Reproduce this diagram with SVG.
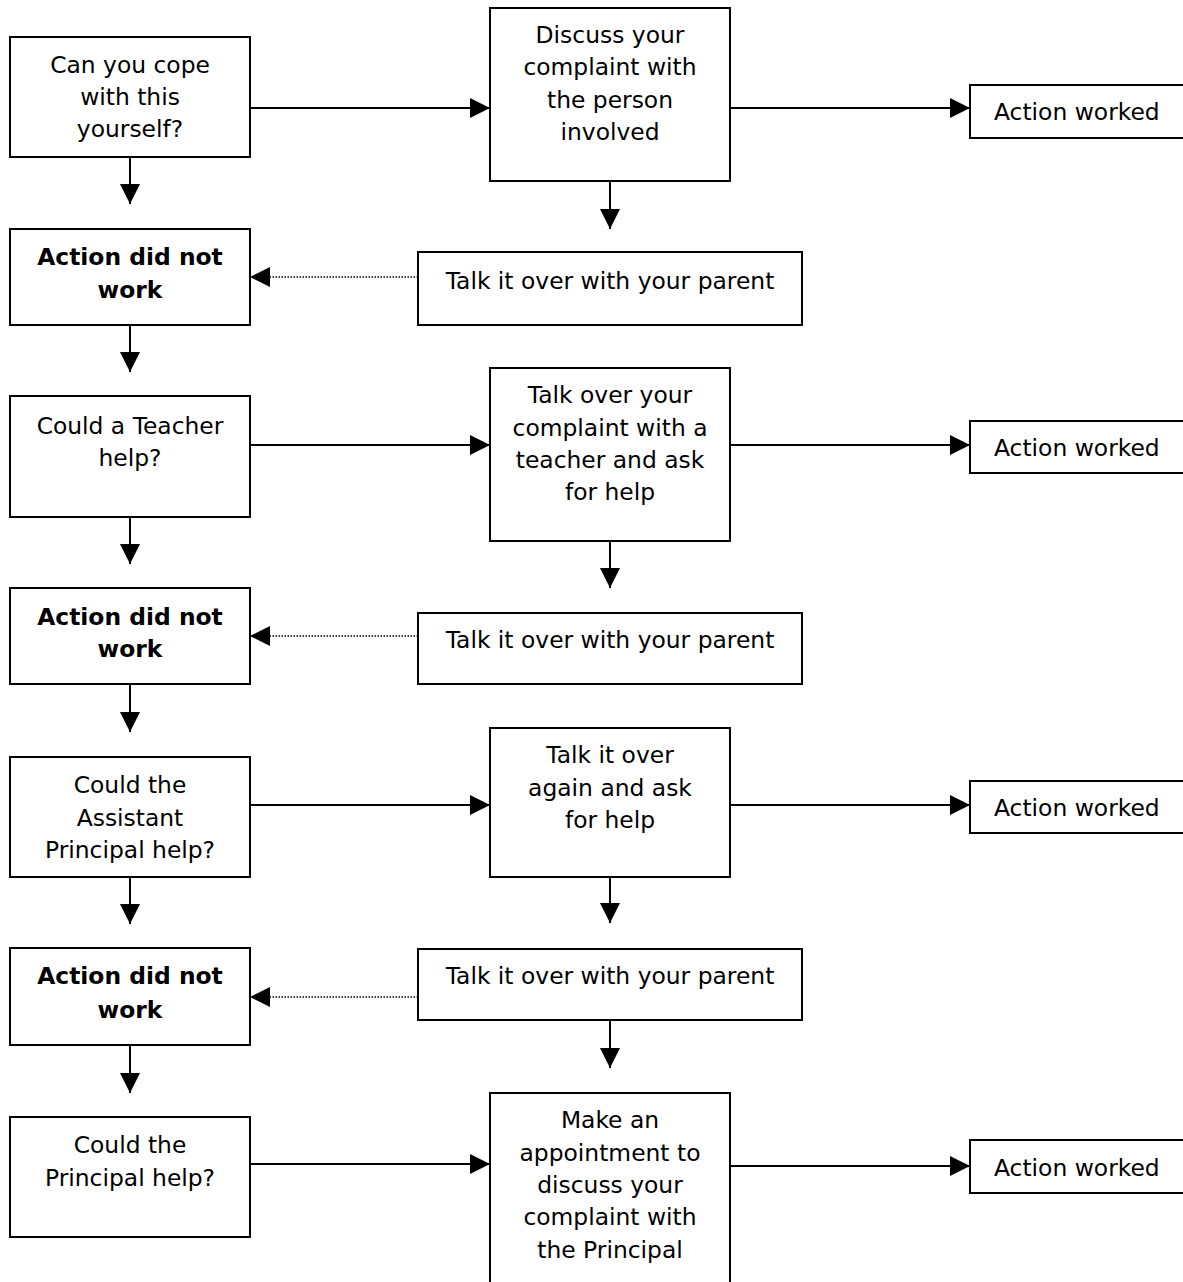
<svg xmlns="http://www.w3.org/2000/svg" width="1183" height="1282" viewBox="0 0 1183 1282">
<style>
rect{fill:#fff;stroke:#000;stroke-width:2}
text{font-family:"DejaVu Sans","Verdana",sans-serif;font-size:23.4px;fill:#000;text-anchor:middle}
.b{font-weight:bold}
.l{text-anchor:start}
.c{stroke:#000;stroke-width:2;fill:none}
.d{stroke:#000;stroke-width:1.5;stroke-dasharray:1.5 1.5;fill:none}
</style>
<defs>
<marker id="ah" markerUnits="userSpaceOnUse" markerWidth="20" markerHeight="20" refX="20" refY="10" orient="auto" viewBox="0 0 20 20"><path d="M0,0 L20,10 L0,20 z" fill="#000"/></marker>
</defs>
<rect x="0" y="0" width="1183" height="1282" style="stroke:none"/>
<g id="connectors">
<path class="c" marker-end="url(#ah)" d="M130,157 V204"/>
<path class="c" marker-end="url(#ah)" d="M130,325 V372"/>
<path class="c" marker-end="url(#ah)" d="M250,108 H490"/>
<path class="c" marker-end="url(#ah)" d="M730,108 H970"/>
<path class="c" marker-end="url(#ah)" d="M610,181 V229"/>
<path class="d" marker-end="url(#ah)" d="M418,277 H250"/>
<path class="c" marker-end="url(#ah)" d="M130,517 V564"/>
<path class="c" marker-end="url(#ah)" d="M130,684 V732"/>
<path class="c" marker-end="url(#ah)" d="M250,445 H490"/>
<path class="c" marker-end="url(#ah)" d="M730,445 H970"/>
<path class="c" marker-end="url(#ah)" d="M610,541 V588"/>
<path class="d" marker-end="url(#ah)" d="M418,636 H250"/>
<path class="c" marker-end="url(#ah)" d="M130,877 V924"/>
<path class="c" marker-end="url(#ah)" d="M130,1045 V1093"/>
<path class="c" marker-end="url(#ah)" d="M250,805 H490"/>
<path class="c" marker-end="url(#ah)" d="M730,805 H970"/>
<path class="c" marker-end="url(#ah)" d="M610,877 V923"/>
<path class="d" marker-end="url(#ah)" d="M418,997 H250"/>
<path class="c" marker-end="url(#ah)" d="M610,1020 V1068"/>
<path class="c" marker-end="url(#ah)" d="M250,1164 H490"/>
<path class="c" marker-end="url(#ah)" d="M730,1166 H970"/>
</g>
<g id="q1"><rect x="10" y="37" width="240" height="120"/><text x="130" y="73">Can you cope</text><text x="130" y="105">with this</text><text x="130" y="137">yourself?</text></g>
<g id="a1"><rect x="10" y="229" width="240" height="96"/><text class="b" x="130" y="265">Action did not</text><text class="b" x="130" y="298">work</text></g>
<g id="c1"><rect x="490" y="8" width="240" height="173"/><text x="610" y="43">Discuss your</text><text x="610" y="75">complaint with</text><text x="610" y="108">the person</text><text x="610" y="140">involved</text></g>
<g id="t1"><rect x="418" y="252" width="384" height="73"/><text x="610" y="289">Talk it over with your parent</text></g>
<g id="w1"><rect x="970" y="85" width="220" height="53"/><text class="l" x="994" y="120">Action worked</text></g>
<g id="q2"><rect x="10" y="396" width="240" height="121"/><text x="130" y="434">Could a Teacher</text><text x="130" y="466">help?</text></g>
<g id="a2"><rect x="10" y="588" width="240" height="96"/><text class="b" x="130" y="625">Action did not</text><text class="b" x="130" y="657">work</text></g>
<g id="c2"><rect x="490" y="368" width="240" height="173"/><text x="610" y="403">Talk over your</text><text x="610" y="436">complaint with a</text><text x="610" y="468">teacher and ask</text><text x="610" y="500">for help</text></g>
<g id="t2"><rect x="418" y="613" width="384" height="71"/><text x="610" y="648">Talk it over with your parent</text></g>
<g id="w2"><rect x="970" y="421" width="220" height="52"/><text class="l" x="994" y="456">Action worked</text></g>
<g id="q3"><rect x="10" y="757" width="240" height="120"/><text x="130" y="793">Could the</text><text x="130" y="826">Assistant</text><text x="130" y="858">Principal help?</text></g>
<g id="a3"><rect x="10" y="948" width="240" height="97"/><text class="b" x="130" y="984">Action did not</text><text class="b" x="130" y="1018">work</text></g>
<g id="c3"><rect x="490" y="728" width="240" height="149"/><text x="610" y="763">Talk it over</text><text x="610" y="796">again and ask</text><text x="610" y="828">for help</text></g>
<g id="t3"><rect x="418" y="949" width="384" height="71"/><text x="610" y="984">Talk it over with your parent</text></g>
<g id="w3"><rect x="970" y="781" width="220" height="52"/><text class="l" x="994" y="816">Action worked</text></g>
<g id="q4"><rect x="10" y="1117" width="240" height="120"/><text x="130" y="1153">Could the</text><text x="130" y="1186">Principal help?</text></g>
<g id="c4"><rect x="490" y="1093" width="240" height="200"/><text x="610" y="1128">Make an</text><text x="610" y="1161">appointment to</text><text x="610" y="1193">discuss your</text><text x="610" y="1225">complaint with</text><text x="610" y="1258">the Principal</text></g>
<g id="w4"><rect x="970" y="1140" width="220" height="53"/><text class="l" x="994" y="1176">Action worked</text></g>
</svg>
